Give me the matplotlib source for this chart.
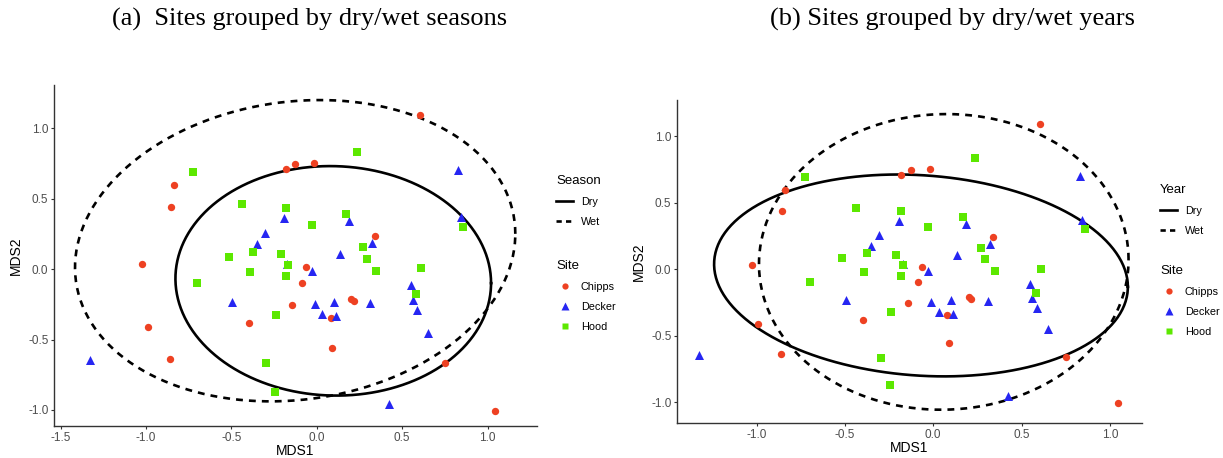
import numpy as np
import matplotlib.pyplot as plt
from matplotlib.lines import Line2D

plt.rcParams['font.family'] = ['Liberation Sans', 'DejaVu Sans']

# NMDS scores (same points in both panels)
chipps_x = [0.604, -0.183, -0.126, -0.019, -0.839, -0.854, -1.024, 0.340, -0.065, -0.088,
            -0.143, 0.202, 0.216, 0.080, -0.399, -0.991, -0.860, 0.088, 0.753, 1.045]
chipps_y = [1.093, 0.709, 0.744, 0.754, 0.600, 0.440, 0.035, 0.239, 0.015, -0.095,
            -0.256, -0.211, -0.226, -0.347, -0.384, -0.410, -0.641, -0.558, -0.663, -1.008]

decker_x = [-1.328, 0.829, 0.844, -0.195, 0.187, -0.306, -0.353, 0.321, 0.136, -0.172, -0.029,
            0.550, 0.562, 0.585, -0.495, -0.011, 0.103, 0.031, 0.113, 0.311, 0.651, 0.424]
decker_y = [-0.643, 0.701, 0.374, 0.362, 0.342, 0.254, 0.176, 0.188, 0.108, 0.040, -0.010,
            -0.113, -0.219, -0.289, -0.231, -0.246, -0.234, -0.322, -0.334, -0.239, -0.450, -0.957]

hood_x = [0.237, -0.724, -0.437, -0.183, 0.170, -0.031, 0.858, 0.269, -0.372, -0.516, -0.208,
          0.296, -0.168, 0.611, -0.390, 0.348, -0.183, -0.699, 0.581, -0.237, -0.298, -0.246]
hood_y = [0.834, 0.691, 0.460, 0.437, 0.392, 0.317, 0.299, 0.158, 0.123, 0.085, 0.106,
          0.075, 0.028, 0.005, -0.020, -0.015, -0.048, -0.098, -0.178, -0.324, -0.666, -0.874]

# ellipses: centre x, centre y, half width, half height, correlation
season_dry = [0.096, -0.083, 0.924, 0.815, -0.02]
season_wet = [-0.127, 0.131, 1.289, 1.070, 0.112]
year_dry = [-0.069, -0.047, 1.171, 0.760, -0.112]
year_wet = [0.060, 0.055, 1.046, 1.113, 0.015]

RED = "#EE4122"
BLUE = "#2626F2"
GREEN = "#5CE800"
GREY = "#4d4d4d"
DASH = (0, (2.6, 2.3))


def ellipse_xy(p):
    cx, cy, hw, hh, r = p
    t = np.linspace(0, 2 * np.pi, 300)
    x = cx + hw * np.cos(t)
    y = cy + hh * (r * np.cos(t) + np.sqrt(1 - r ** 2) * np.sin(t))
    return x, y


def draw_panel(ax, dry, wet, xlim, ylim, xticks):
    ax.scatter(chipps_x, chipps_y, s=28, marker="o", color=RED, linewidths=0, zorder=3)
    ax.scatter(decker_x, decker_y, s=42, marker="^", color=BLUE, linewidths=0, zorder=3)
    ax.scatter(hood_x, hood_y, s=30, marker="s", color=GREEN, linewidths=0, zorder=3)
    x, y = ellipse_xy(dry)
    ax.plot(x, y, color="black", lw=1.9, zorder=2)
    x, y = ellipse_xy(wet)
    ax.plot(x, y, color="black", lw=1.9, ls=DASH, zorder=2)
    yticks = [-1.0, -0.5, 0.0, 0.5, 1.0]
    ax.set_xlim(xlim)
    ax.set_ylim(ylim)
    ax.set_xticks(xticks)
    ax.set_yticks(yticks)
    ax.set_xticklabels(["{:.1f}".format(v) for v in xticks])
    ax.set_yticklabels(["{:.1f}".format(v) for v in yticks])
    for s in ["top", "right"]:
        ax.spines[s].set_visible(False)
    for s in ["left", "bottom"]:
        ax.spines[s].set_color("#333333")
        ax.spines[s].set_linewidth(1.0)
    ax.tick_params(colors="#333333", labelsize=8.5, length=2.5, width=0.8,
                   labelcolor=GREY, pad=1.5)
    ax.set_xlabel("MDS1", fontsize=10, labelpad=0.5)
    ax.set_ylabel("MDS2", fontsize=10, labelpad=4)


def add_legends(fig, ax, title, x, y_top, y_site):
    opts = dict(loc="upper left", bbox_transform=fig.transFigure, frameon=False,
                fontsize=7.8, title_fontsize=9.5, handlelength=1.6, handletextpad=0.7,
                labelspacing=0.92, borderpad=0, borderaxespad=0, alignment="left")
    lines = [Line2D([], [], color="black", lw=1.9),
             Line2D([], [], color="black", lw=1.9, ls=(0, (2.0, 1.6)))]
    leg1 = ax.legend(lines, ["Dry", "Wet"], title=title, bbox_to_anchor=(x, y_top), **opts)
    ax.add_artist(leg1)
    pts = [Line2D([], [], ls="", marker="o", ms=4.5, color=RED, mec="none"),
           Line2D([], [], ls="", marker="^", ms=5.5, color=BLUE, mec="none"),
           Line2D([], [], ls="", marker="s", ms=4.5, color=GREEN, mec="none")]
    ax.legend(pts, ["Chipps", "Decker", "Hood"], title="Site",
              bbox_to_anchor=(x, y_site), **opts)


fig = plt.figure(figsize=(12.23, 4.58), dpi=100)
W, H = 1223.0, 458.0

ax1 = fig.add_axes([54 / W, 1 - 426 / H, 483 / W, 341 / H])
draw_panel(ax1, season_dry, season_wet, (-1.539, 1.289), (-1.114, 1.308),
           [-1.5, -1.0, -0.5, 0.0, 0.5, 1.0])
add_legends(fig, ax1, "Season", 556 / W, 1 - 175 / H, 1 - 260 / H)

ax2 = fig.add_axes([677 / W, 1 - 423 / H, 465 / W, 323 / H])
draw_panel(ax2, year_dry, year_wet, (-1.450, 1.182), (-1.158, 1.274),
           [-1.0, -0.5, 0.0, 0.5, 1.0])
add_legends(fig, ax2, "Year", 1160 / W, 1 - 184 / H, 1 - 265 / H)

fig.text(310 / W, 1 - 19 / H, "(a)  Sites grouped by dry/wet seasons", ha="center", va="center",
         family="Liberation Serif", fontsize=19)
fig.text(952 / W, 1 - 19 / H, "(b) Sites grouped by dry/wet years", ha="center", va="center",
         family="Liberation Serif", fontsize=19)

fig.savefig("out.png", dpi=100)
